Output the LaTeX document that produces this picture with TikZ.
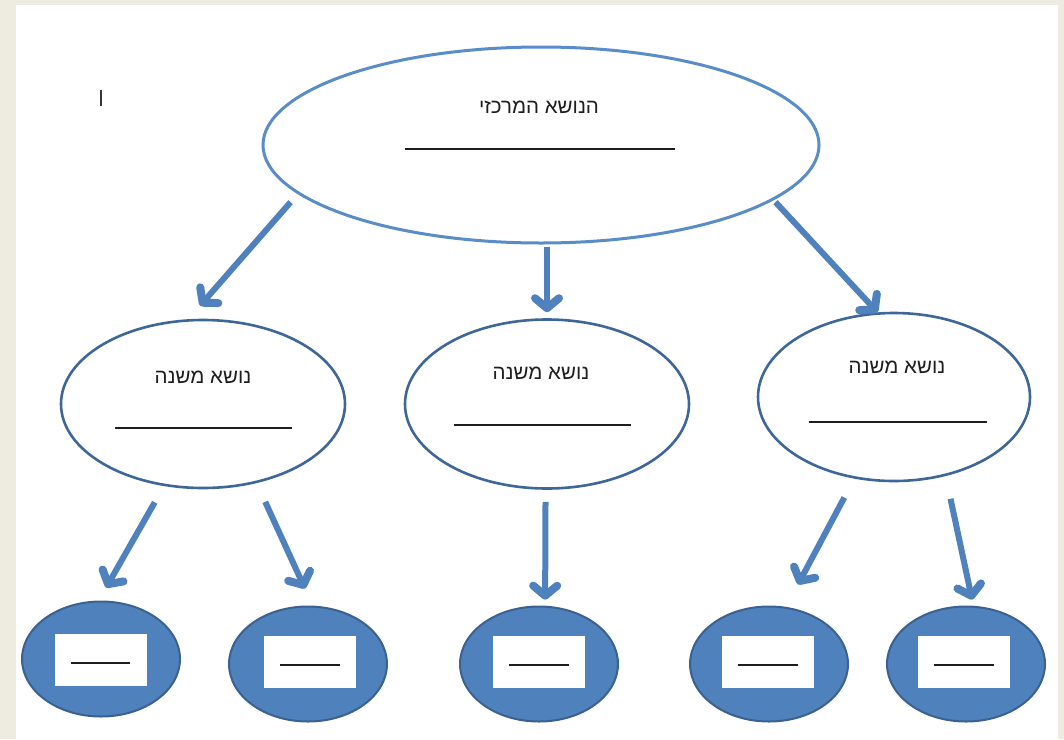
\documentclass[tikz,border=0pt]{standalone}
\usepackage{fontspec}
\newfontfamily\hebfont[Script=Hebrew]{Liberation Sans}
\TeXXeTstate=1
\usetikzlibrary{shapes.geometric,arrows.meta}
\definecolor{pagebg}{HTML}{EEEBE0}
\definecolor{arrowblue}{HTML}{4F81BD}
\definecolor{mainline}{HTML}{5A8CC8}
\definecolor{subline}{HTML}{3F6699}
\definecolor{leafline}{HTML}{3A6190}
\definecolor{ink}{HTML}{1E1E1E}
\tikzset{
  mainell/.style={ellipse,draw=mainline,line width=3pt,fill=white,inner sep=0pt,minimum width=556pt,minimum height=196pt},
  subell/.style={ellipse,draw=subline,line width=2.6pt,fill=white,inner sep=0pt},
  leafell/.style={ellipse,draw=leafline,line width=2pt,fill=arrowblue,inner sep=0pt,minimum width=158pt,minimum height=115pt},
  leafbox/.style={rectangle,fill=white,inner sep=0pt,minimum width=92pt,minimum height=52pt},
  arr/.style={draw=arrowblue,line width=6pt,-{Straight Barb[length=10pt,width=24pt,line width=8pt,round]}},
  heb/.style={font=\hebfont\fontsize{20.5}{24}\selectfont,text=ink,inner sep=0pt},
  uline/.style={draw=ink,line width=1.8pt}
}
\begin{document}
\begin{tikzpicture}[x=1pt,y=-1pt]
\fill[pagebg] (0,0) rectangle (1064,739);
\fill[white] (16,5) rectangle (1058,739);
\useasboundingbox (0,0) rectangle (1064,739);
% cursor mark
\draw[ink!90,line width=1.6pt] (101,90) -- (101,106);
% main topic
\node[mainell] (main) at (541,145) {};
\node[heb] (maintext) at (539,107) {\beginR הנושא המרכזי\endR};
\draw[uline] (405,149) -- (675,149);
% sub topics
\node[subell,minimum width=284pt,minimum height=168pt] (left) at (203,404) {};
\node[subell,minimum width=284pt,minimum height=169pt] (mid) at (547,404) {};
\node[subell,minimum width=272pt,minimum height=168pt] (right) at (894,397) {};
\node[heb] (lefttext) at (203,377) {\beginR נושא משנה\endR};
\node[heb] (midtext) at (541,373) {\beginR נושא משנה\endR};
\node[heb] (righttext) at (897,367) {\beginR נושא משנה\endR};
\draw[uline] (115,428) -- (292,428);
\draw[uline] (454,425) -- (631,425);
\draw[uline] (809,422) -- (987,422);
% leaves
\node[leafell] (b1) at (101,659) {};
\node[leafell] (b2) at (308,664) {};
\node[leafell] (b3) at (539,664) {};
\node[leafell] (b4) at (769,664) {};
\node[leafell] (b5) at (966,664) {};
\node[leafbox] (r1) at (101,660) {};
\node[leafbox] (r2) at (310,662) {};
\node[leafbox] (r3) at (539,662) {};
\node[leafbox] (r4) at (768,662) {};
\node[leafbox] (r5) at (964,662) {};
\draw[ink,line width=1.5pt] (71,663) -- (130,663);
\draw[ink,line width=1.5pt] (280,665) -- (340,665);
\draw[ink,line width=1.5pt] (509,665) -- (569,665);
\draw[ink,line width=1.5pt] (738,665) -- (798,665);
\draw[ink,line width=1.5pt] (934,665) -- (994,665);
% arrows
\draw[arr] ([yshift=-13pt]main.190) -- ([yshift=13pt]left.92);
\draw[arr] ([xshift=6pt,yshift=-2pt]main.south) -- ([yshift=6pt]mid.north);
\draw[arr] ([yshift=-3pt]main.-13) -- (right.101);
\draw[arr] ([yshift=-18pt]left.239) -- ([yshift=13pt]b1.85);
\draw[arr] ([yshift=-21pt]left.309) -- ([yshift=17pt]b2.93);
\draw[arr] ([yshift=-12pt]mid.269) -- ([yshift=6pt]b3.84);
\draw[arr] ([yshift=-21pt]right.238.6) -- ([yshift=25pt]b4.62.7);
\draw[arr] ([yshift=-24pt]right.306.8) -- ([yshift=6pt]b5.84);
\end{tikzpicture}
\end{document}
